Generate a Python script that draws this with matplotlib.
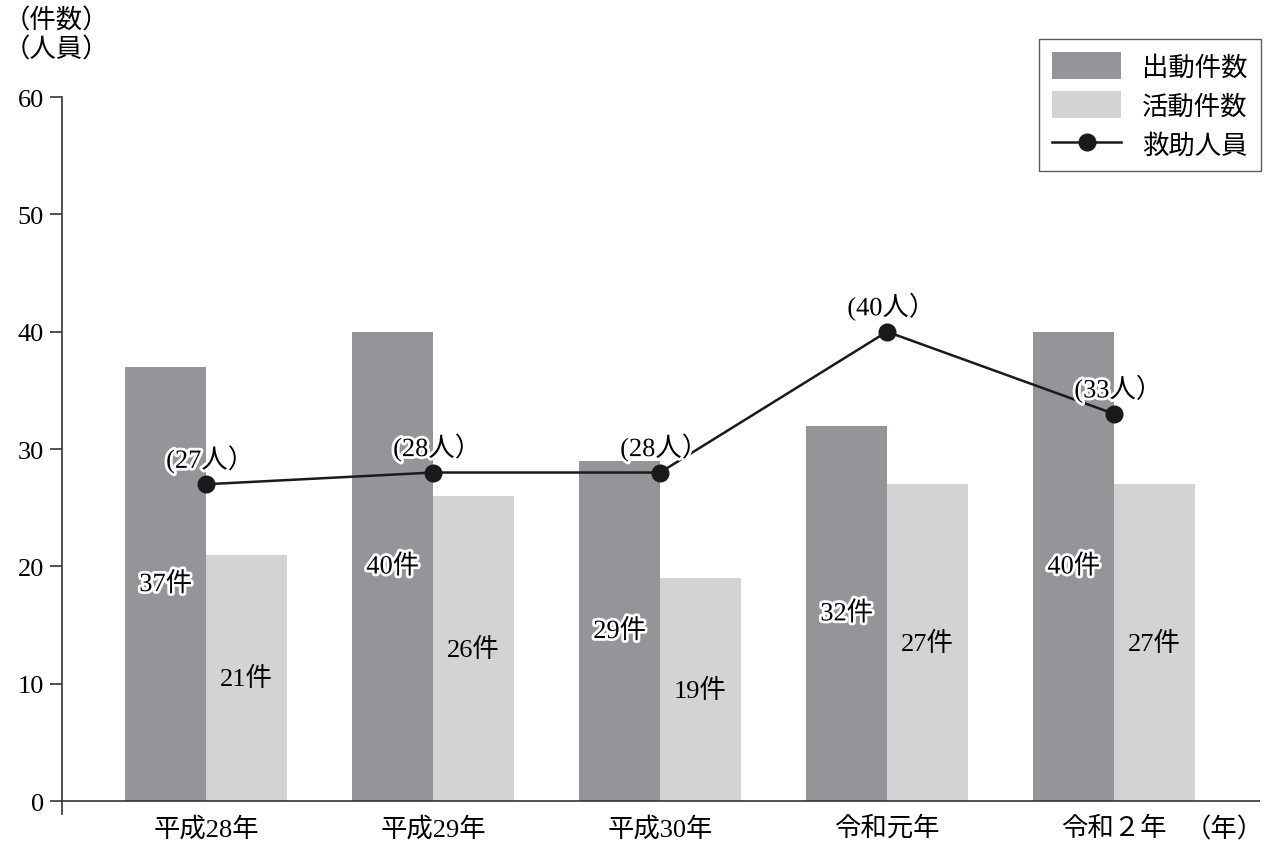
import numpy as np
import matplotlib.pyplot as plt
import matplotlib.patheffects as pe
from matplotlib.lines import Line2D
from matplotlib.patches import Patch

plt.rcParams['font.family'] = ['Liberation Serif', 'Noto Sans CJK JP']

# データ
years = ['平成28年', '平成29年', '平成30年', '令和元年', '令和２年']
dispatch = [37, 40, 29, 32, 40]     # 出動件数
activity = [21, 26, 19, 27, 27]     # 活動件数
rescued = [27, 28, 28, 40, 33]      # 救助人員

dark = '#939598'
light = '#d1d3d4'
fs = 19

fig = plt.figure(figsize=(12.74, 8.45), dpi=100)
ax = fig.add_axes([0.0487, 0.0355, 0.9403, 0.8485])

x = np.arange(len(years))
w = 0.355
ax.bar(x - w / 2, dispatch, w, color=dark, zorder=2)
ax.bar(x + w / 2, activity, w, color=light, zorder=2)
ax.plot(x, rescued, color='#1a1a1a', lw=1.8, marker='o', ms=12, zorder=4)

halo = [pe.withStroke(linewidth=4, foreground='white')]
for i in range(len(years)):
    ax.text(x[i] - w / 2, dispatch[i] / 2, f'{dispatch[i]}件', ha='center', va='center',
            fontsize=fs, color='black', path_effects=halo, zorder=5)
    ax.text(x[i] + w / 2, activity[i] / 2, f'{activity[i]}件', ha='center', va='center',
            fontsize=fs, color='black', zorder=5)
    ax.annotate(f'({rescued[i]}人）', (x[i], rescued[i]), xytext=(3, 18), textcoords='offset points',
                ha='center', va='center', fontsize=fs, path_effects=halo, zorder=5)

ax.set_xlim(-0.634, 4.643)
ax.set_ylim(-1.1, 60)
ax.set_yticks(range(0, 61, 10))
ax.set_xticks(x)
ax.set_xticklabels(years)
ax.tick_params(axis='x', length=0, labelsize=fs, pad=1)
ax.tick_params(axis='y', length=9, width=1.2, labelsize=fs, pad=4, color='#333333')
for s in ['top', 'right', 'bottom']:
    ax.spines[s].set_visible(False)
ax.spines['left'].set_linewidth(1.2)
ax.spines['left'].set_color('#333333')
ax.axhline(0, color='#333333', lw=1.2, zorder=3)

fig.text(0.003, 0.99, '（件数）\n（人員）', ha='left', va='top', fontsize=fs, linespacing=1.2)
fig.text(0.992, 0.018, '（年）', ha='right', va='center', fontsize=fs)

handles = [Patch(facecolor=dark), Patch(facecolor=light),
           Line2D([], [], color='#1a1a1a', lw=1.8, marker='o', ms=12)]
leg = fig.legend(handles, ['出動件数', '活動件数', '救助人員'], loc='upper right',
                 bbox_to_anchor=(0.9895, 0.953), fontsize=fs, frameon=True, fancybox=False,
                 edgecolor='#333333', handlelength=2.6, handleheight=1.2,
                 borderpad=0.5, labelspacing=0.45, handletextpad=0.8, borderaxespad=0)
leg.get_frame().set_linewidth(1.0)

fig.savefig('out.png', dpi=100)
